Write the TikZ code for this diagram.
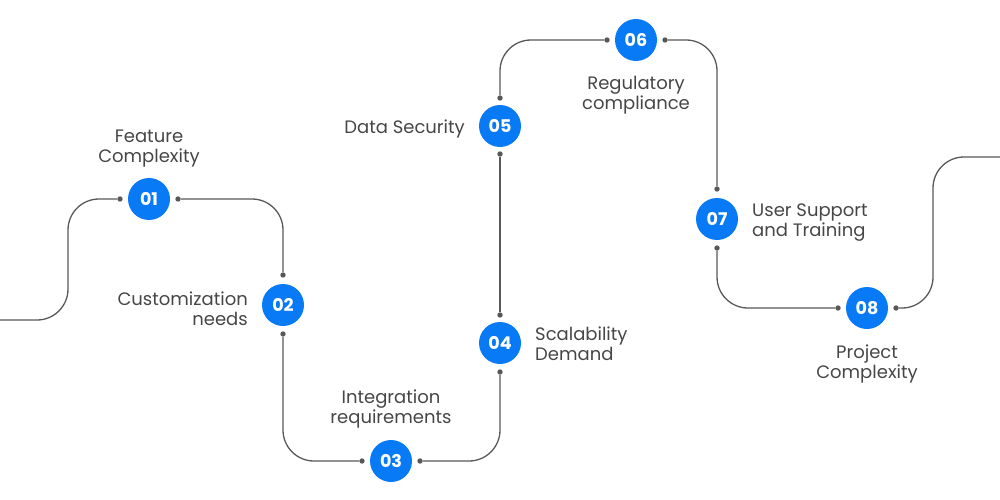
\documentclass[tikz,border=0pt]{standalone}
\usepackage{fontspec}
\setmainfont{Poppins}
\usepackage{xcolor}
\usepackage{tikz}
\usetikzlibrary{positioning}

\definecolor{stepblue}{RGB}{8,122,245}
\definecolor{linegray}{RGB}{88,88,88}
\definecolor{textgray}{RGB}{70,70,70}

\tikzset{
  num/.style={circle, fill=stepblue, minimum size=42, inner sep=0,
    text=white, font=\fontsize{17.5}{20}\selectfont\bfseries},
  dot/.style={circle, fill=linegray, minimum size=5.4, inner sep=0},
  lbl/.style={text=textgray, inner sep=0, font=\fontsize{18}{20}\selectfont},
  wire/.style={draw=linegray, line width=1.3, rounded corners=31}
}

\begin{document}
\begin{tikzpicture}[x=1pt, y=-1pt]
\useasboundingbox (0,0) rectangle (1000,500);

% steps
\node[num] (n1) at (149,199) {01};
\node[num] (n2) at (283,305) {02};
\node[num] (n3) at (391,461) {03};
\node[num] (n4) at (500,343) {04};
\node[num] (n5) at (500,126) {05};
\node[num] (n6) at (636,40) {06};
\node[num] (n7) at (717,219) {07};
\node[num] (n8) at (867,308) {08};

% dots
\node[dot] (n1l) at ([xshift=-29]n1) {};
\node[dot] (n1r) at ([xshift=29]n1) {};
\node[dot] (n2t) at ([yshift=30]n2) {};
\node[dot] (n2b) at ([yshift=-29]n2) {};
\node[dot] (n3l) at ([xshift=-29]n3) {};
\node[dot] (n3r) at ([xshift=29]n3) {};
\node[dot] (n4t) at ([yshift=28]n4) {};
\node[dot] (n4b) at ([yshift=-29]n4) {};
\node[dot] (n5t) at ([yshift=28]n5) {};
\node[dot] (n5b) at ([yshift=-28]n5) {};
\node[dot] (n6l) at ([xshift=-29]n6) {};
\node[dot] (n6r) at ([xshift=29]n6) {};
\node[dot] (n7t) at ([yshift=30]n7) {};
\node[dot] (n7b) at ([yshift=-29]n7) {};
\node[dot] (n8l) at ([xshift=-29]n8) {};
\node[dot] (n8r) at ([xshift=29]n8) {};

\coordinate (s0) at (0,320);
\coordinate (e0) at (1000,157);

% path
\draw[wire] (s0) -| ([xshift=-52]n1l.center) -- (n1l);
\draw[wire] (n1r) -| (n2t);
\draw[wire] (n2b) |- (n3l);
\draw[wire] (n3r) -| (n4b);
\draw[wire] (n4t) -- (n5b);
\draw[wire] (n5t) |- (n6l);
\draw[wire] (n6r) -| (n7t);
\draw[wire] (n7b) |- (n8l);
\draw[wire] (n8r) -| ([xshift=-67]e0) -- (e0);

% labels
\node[lbl, align=center, anchor=base] (t1) at ([yshift=37]n1) {Feature\\Complexity};
\node[lbl, align=right, anchor=base east] (t2) at ([xshift=-35,yshift=-20]n2) {Customization\\needs};
\node[lbl, align=center, anchor=base] (t3) at ([yshift=38]n3) {Integration\\requirements};
\node[lbl, align=left, anchor=base west] (t4) at ([xshift=35,yshift=-17]n4) {Scalability\\Demand};
\node[lbl, anchor=base east] (t5) at ([xshift=-35,yshift=-7]n5) {Data Security};
\node[lbl, align=center, anchor=base] (t6) at ([yshift=-70]n6) {Regulatory\\compliance};
\node[lbl, align=left, anchor=base west] (t7) at ([xshift=35,yshift=-17]n7) {User Support\\and Training};
\node[lbl, align=center, anchor=base] (t8) at ([yshift=-70]n8) {Project\\Complexity};
\end{tikzpicture}
\end{document}
